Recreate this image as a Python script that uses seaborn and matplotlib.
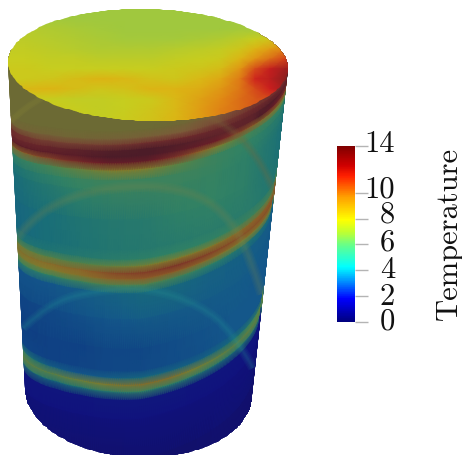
import numpy as np
import pandas as pd
import matplotlib
matplotlib.use("Agg")
import matplotlib.pyplot as plt
from matplotlib.colors import LinearSegmentedColormap
from matplotlib.path import Path
from matplotlib.patches import PathPatch
import seaborn as sns

# ---- values -----------------------------------------------------------
legend_title = "Temperature"
tick_values = [0, 2, 4, 6, 8, 10, 13.65]
tick_labels = ["0", "2", "4", "6", "8", "10", "14"]
label_places = [0.1, 1.95, 4.1, 6.2, 8.35, 10.3, 13.9]
scale_max = 13.65

# top face: temperature on a picture grid
top_x = [0, 25, 50, 75, 100, 125, 150, 175, 200, 220, 240, 255, 270, 285, 300]
top_y = [0, 10, 20, 30, 40, 50, 60, 70, 80, 90, 100, 110, 130]
top_temp = [
    [7.2, 7.2, 7.2, 7.1, 7.1, 7.1, 7.0, 7.0, 7.0, 7.0, 7.0, 7.0, 7.1, 7.2, 7.2],
    [7.3, 7.3, 7.2, 7.1, 7.1, 7.0, 7.0, 7.0, 7.0, 7.0, 7.0, 7.0, 7.1, 7.2, 7.2],
    [7.4, 7.4, 7.3, 7.2, 7.1, 7.1, 7.1, 7.1, 7.1, 7.1, 7.1, 7.2, 7.2, 7.3, 7.3],
    [7.6, 7.6, 7.5, 7.4, 7.3, 7.2, 7.2, 7.2, 7.2, 7.2, 7.3, 7.3, 7.4, 7.5, 7.6],
    [7.7, 7.7, 7.6, 7.5, 7.4, 7.3, 7.3, 7.3, 7.4, 7.5, 7.7, 7.9, 8.1, 8.3, 8.5],
    [7.8, 7.8, 7.7, 7.6, 7.5, 7.5, 7.5, 7.6, 7.7, 7.8, 8.1, 8.5, 9.1, 9.7, 10.2],
    [7.9, 7.9, 7.8, 7.8, 7.7, 7.7, 7.7, 7.8, 7.9, 8.0, 8.5, 9.3, 10.2, 11.2, 11.8],
    [8.0, 8.0, 7.9, 7.9, 7.9, 7.9, 7.9, 8.0, 8.1, 8.3, 9.3, 11.0, 12.2, 13.0, 13.5],
    [8.0, 8.0, 8.1, 8.3, 8.5, 8.4, 8.2, 8.1, 8.4, 8.8, 9.9, 11.8, 12.4, 13.4, 13.7],
    [8.2, 8.4, 8.5, 8.3, 8.1, 8.2, 8.5, 8.5, 8.7, 9.2, 10.0, 11.0, 12.0, 13.0, 13.5],
    [8.0, 8.0, 7.9, 7.8, 7.8, 7.9, 8.0, 8.4, 9.0, 9.5, 10.2, 10.7, 11.0, 11.5, 11.5],
    [8.0, 8.0, 8.0, 7.9, 7.8, 7.9, 8.1, 8.4, 9.1, 9.7, 10.2, 10.7, 11.0, 11.0, 11.0],
    [8.0, 8.0, 8.0, 7.9, 7.9, 8.0, 8.2, 8.5, 9.1, 9.7, 10.2, 10.7, 11.0, 11.0, 11.0],
]

# side wall: shade along the wall, by height at the front and across the width
side_across = [-1, -0.75, -0.5, -0.25, 0, 0.25, 0.5, 0.75, 1]
side_front_y = [60, 100, 122, 130, 138, 144, 150, 156, 162, 170, 180, 190, 220, 250, 260,
                267, 274, 280, 286, 294, 320, 350, 372, 379, 386, 393, 401, 420, 460, 520]
side_shade = [
    [14.0, 14.0, 14.0, 14.0, 14.0, 14.0, 14.0, 13.0, 12.0],
    [14.0, 14.0, 14.0, 14.0, 14.0, 14.0, 14.0, 13.0, 12.0],
    [14.0, 14.0, 14.0, 14.0, 14.0, 14.0, 14.0, 13.0, 12.0],
    [14.0, 14.0, 14.0, 14.0, 14.0, 13.7, 13.0, 12.5, 12.0],
    [13.5, 13.5, 13.6, 13.4, 13.2, 13.0, 12.5, 12.0, 12.0],
    [12.0, 12.5, 12.5, 12.3, 12.1, 12.0, 11.8, 11.5, 10.5],
    [12.0, 11.8, 11.5, 11.2, 11.0, 11.2, 11.5, 11.5, 9.0],
    [10.5, 10.5, 10.6, 11.0, 11.0, 10.5, 10.0, 8.0, 7.0],
    [7.5, 8.5, 9.5, 10.2, 10.3, 9.0, 7.0, 5.5, 5.0],
    [5.0, 5.5, 6.3, 7.0, 7.0, 6.0, 5.2, 5.0, 4.5],
    [4.2, 4.8, 5.2, 5.3, 5.3, 5.3, 5.2, 4.9, 4.3],
    [4.0, 4.5, 5.0, 5.2, 5.2, 5.2, 5.1, 4.8, 4.1],
    [3.6, 4.0, 4.3, 4.5, 4.6, 4.9, 5.0, 4.8, 4.1],
    [3.6, 4.0, 4.2, 4.4, 4.5, 4.6, 4.7, 4.7, 4.5],
    [4.5, 4.3, 4.5, 4.7, 4.9, 5.0, 5.0, 5.3, 6.0],
    [6.5, 6.0, 5.8, 6.3, 6.8, 7.0, 7.0, 7.5, 8.0],
    [7.5, 7.6, 7.8, 8.6, 9.0, 9.3, 9.0, 8.5, 8.5],
    [6.5, 7.0, 7.3, 7.8, 8.0, 8.0, 7.5, 7.0, 7.0],
    [5.0, 5.0, 5.3, 5.7, 5.8, 5.5, 5.0, 4.5, 4.0],
    [3.0, 3.0, 3.2, 3.5, 3.8, 3.8, 3.5, 3.4, 3.2],
    [2.4, 2.5, 2.8, 3.0, 3.2, 3.2, 3.2, 3.2, 3.0],
    [2.0, 2.2, 2.2, 2.4, 2.4, 2.6, 2.8, 3.0, 3.0],
    [2.5, 2.2, 2.3, 2.4, 2.5, 2.6, 2.7, 3.0, 3.0],
    [5.0, 3.5, 3.0, 3.4, 3.8, 3.6, 3.5, 4.0, 5.5],
    [6.5, 6.2, 6.6, 7.2, 7.5, 7.5, 6.8, 6.3, 6.5],
    [4.5, 4.0, 4.3, 4.6, 5.0, 4.8, 4.5, 4.2, 4.5],
    [1.1, 1.1, 1.1, 1.2, 1.2, 1.2, 1.1, 1.1, 1.1],
    [1.0, 1.0, 1.0, 1.0, 1.0, 1.0, 1.0, 1.0, 1.0],
    [0.5, 0.5, 0.5, 0.5, 0.6, 0.6, 0.6, 0.7, 0.7],
    [0.2, 0.2, 0.2, 0.3, 0.3, 0.3, 0.4, 0.4, 0.4],
]
side_tilt_y = [150, 277, 386]
side_tilt_left = [33, 25, 24]
side_tilt_right = [12, 22, 21]
bow_across = [-1, -0.85, -0.7, -0.5, -0.25, 0]
bow_shift = [-3, -7, -9, -8, -4, 0]

# faint bands seen through the wall
back_a_left_x = [11, 25, 42]
back_a_left_y = [122, 108, 99]
back_a_right_x = [205, 233, 255, 268, 277]
back_a_right_y = [115, 130, 155, 178, 197]
back_b_x = [18, 30, 60, 100, 150, 200, 232, 250, 262]
back_b_y = [238, 222, 202, 190, 186, 195, 222, 258, 295]
back_c_x = [23, 50, 100, 150, 200, 233, 253]
back_c_y = [329, 303, 291, 289, 306, 333, 369]

# colours
bar_colors = ["#00007f", "#0000ff", "#00a0ff", "#00ffff", "#60ff90", "#c0ff30",
              "#ffff00", "#ffa000", "#ff2000", "#d00000", "#7f0000"]
bar_stops = [0, 0.13, 0.24, 0.31, 0.43, 0.51, 0.58, 0.71, 0.83, 0.89, 1]
top_colors = ["#a0c83e", "#c8cd1e", "#dcb414", "#e18c14", "#cd1e1e", "#821e1e"]
top_stops = [7.2, 7.9, 8.5, 9.5, 12.0, 13.7]
wall_colors = ["#120e5a", "#10127d", "#0e3c82", "#14588a", "#196e78", "#328264",
               "#5a8246", "#827d2d", "#8c5f28", "#823c28", "#6e1e28", "#4b1c28",
               "#6e2a2c", "#7d5a3a", "#6c6a34"]

# ---- drawing ----------------------------------------------------------
sns.set_theme(style="white")
plt.rcParams["font.family"] = ["cmr10", "DejaVu Sans"]
plt.rcParams["axes.unicode_minus"] = False
plt.rcParams["axes.formatter.use_mathtext"] = True

W, H = 462, 456
fig = plt.figure(figsize=(W / 100, H / 100), dpi=100, facecolor="white")
ax = fig.add_axes([0, 0, 1, 1])
ax.set_xlim(0, W)
ax.set_ylim(H, 0)
ax.axis("off")

wall_cmap = LinearSegmentedColormap.from_list("wall", wall_colors)
stops = [(v - top_stops[0]) / (top_stops[-1] - top_stops[0]) for v in top_stops]
top_cmap = LinearSegmentedColormap.from_list("top", list(zip(stops, top_colors)))
bar_cmap = LinearSegmentedColormap.from_list("bar", list(zip(bar_stops, bar_colors)))

# outline of the solid
phi = np.linspace(0, 2 * np.pi, 241)
top_cx, top_cy, top_a, top_b, top_lean = 148.0, 66.0, 140.0, 56.0, 3.0
bot_cx, bot_cy, bot_a, bot_b, bot_lean = 138.5, 392.5, 113.5, 66.0, 3.5


def ring(cx, cy, a, b, lean, ang):
    return cx + a * np.cos(ang), cy + b * np.sin(ang) + lean * np.cos(ang)


low = np.linspace(0, np.pi, 121)
high = np.linspace(np.pi, 2 * np.pi, 121)
bx, by = ring(bot_cx, bot_cy, bot_a, bot_b, bot_lean, low)
tx, ty = ring(top_cx, top_cy, top_a, top_b, top_lean, high)
outline = np.column_stack([np.r_[bx, tx], np.r_[by, ty]])
solid = PathPatch(Path(outline, closed=False), transform=ax.transData, fc="none", ec="none")
ax.add_patch(solid)

# side wall mesh
front = np.asarray(side_front_y, float)
rows = np.asarray(side_shade, float)
ang = np.linspace(np.pi, 0, 181)
s = np.cos(ang)
h = (front - 122.0) / 336.5
tilt_l = np.interp(front, side_tilt_y, side_tilt_left)
tilt_r = np.interp(front, side_tilt_y, side_tilt_right)
tilt = np.where(s[None, :] < 0, tilt_l[:, None], tilt_r[:, None])
bow = np.interp(s, bow_across, bow_shift)
mesh_c = np.array([np.interp(s, side_across, r) for r in rows])
cx = top_cx + (bot_cx - top_cx) * h
cy = top_cy + (bot_cy - top_cy) * h
aa = top_a + (bot_a - top_a) * h
bb = top_b + (bot_b - top_b) * h
mesh_x = cx[:, None] + aa[:, None] * s[None, :] * 1.02
mesh_y = cy[:, None] + bb[:, None] * np.sin(ang)[None, :] - tilt * s[None, :] + bow[None, :]
wall = ax.pcolormesh(mesh_x, mesh_y, mesh_c, shading="gouraud", cmap=wall_cmap, vmin=0, vmax=14)
wall.set_clip_path(solid)


# bands seen through the wall
def soft_band(xs, ys, color, widths, alpha):
    pts = np.column_stack([xs, ys]).astype(float)
    verts = [pts[0]]
    codes = [Path.MOVETO]
    for i in range(1, len(pts) - 1):
        end = (pts[i] + pts[i + 1]) / 2 if i < len(pts) - 2 else pts[-1]
        verts += [pts[i], end]
        codes += [Path.CURVE3, Path.CURVE3]
    for w in widths:
        p = PathPatch(Path(verts, codes), fc="none", ec=color, lw=w, alpha=alpha, capstyle="butt")
        ax.add_patch(p)
        p.set_clip_path(solid)


soft_band(back_a_left_x, back_a_left_y, "#8a8a3a", [5, 3], 0.14)
soft_band(back_a_right_x, back_a_right_y, "#7a6a40", [7, 5, 3, 1.5], 0.09)
soft_band(back_b_x, back_b_y, "#7a8a50", [8, 6, 4, 2], 0.08)
soft_band(back_c_x, back_c_y, "#2a9a9a", [7, 5, 3, 1.5], 0.08)

# top face
top_face = ax.pcolormesh(np.asarray(top_x, float), np.asarray(top_y, float),
                         np.asarray(top_temp, float), shading="gouraud",
                         cmap=top_cmap, vmin=top_stops[0], vmax=top_stops[-1])
ex, ey = ring(top_cx, top_cy, top_a, top_b, top_lean, phi)
face = PathPatch(Path(np.column_stack([ex, ey]), closed=False), fc="none", ec="none",
                 transform=ax.transData)
ax.add_patch(face)
top_face.set_clip_path(face)

# colour scale
bar_left, bar_right, bar_top, bar_bottom = 337, 355, 147, 322.7
cax = fig.add_axes([bar_left / W, 1 - bar_bottom / H, (bar_right - bar_left) / W,
                    (bar_bottom - bar_top) / H])
n_levels = 256
levels = pd.DataFrame({"T": np.linspace(scale_max, 0, n_levels)})
sns.heatmap(levels, ax=cax, cmap=bar_cmap, vmin=0, vmax=scale_max, cbar=False,
            xticklabels=False, yticklabels=False)
to_row = lambda v: (scale_max - np.asarray(v, float)) / scale_max * n_levels
cax.set_yticks(to_row(tick_values))
cax.set_yticklabels([])
cax.tick_params(axis="y", left=False, right=True, length=9.5, width=1, color="#b4b4b4",
                direction="out", pad=0)
for spine in cax.spines.values():
    spine.set_visible(False)
for lab, place in zip(tick_labels, label_places):
    cax.text(1.0 + 40 / (bar_right - bar_left), to_row(place), lab, ha="right", va="center",
             fontsize=22, color="#111111", transform=cax.get_yaxis_transform())
fig.text(449 / W, 1 - 233 / H, legend_title, rotation=90, ha="center", va="center",
         fontsize=22, color="#111111")

fig.savefig("out.png", dpi=100, facecolor="white")
